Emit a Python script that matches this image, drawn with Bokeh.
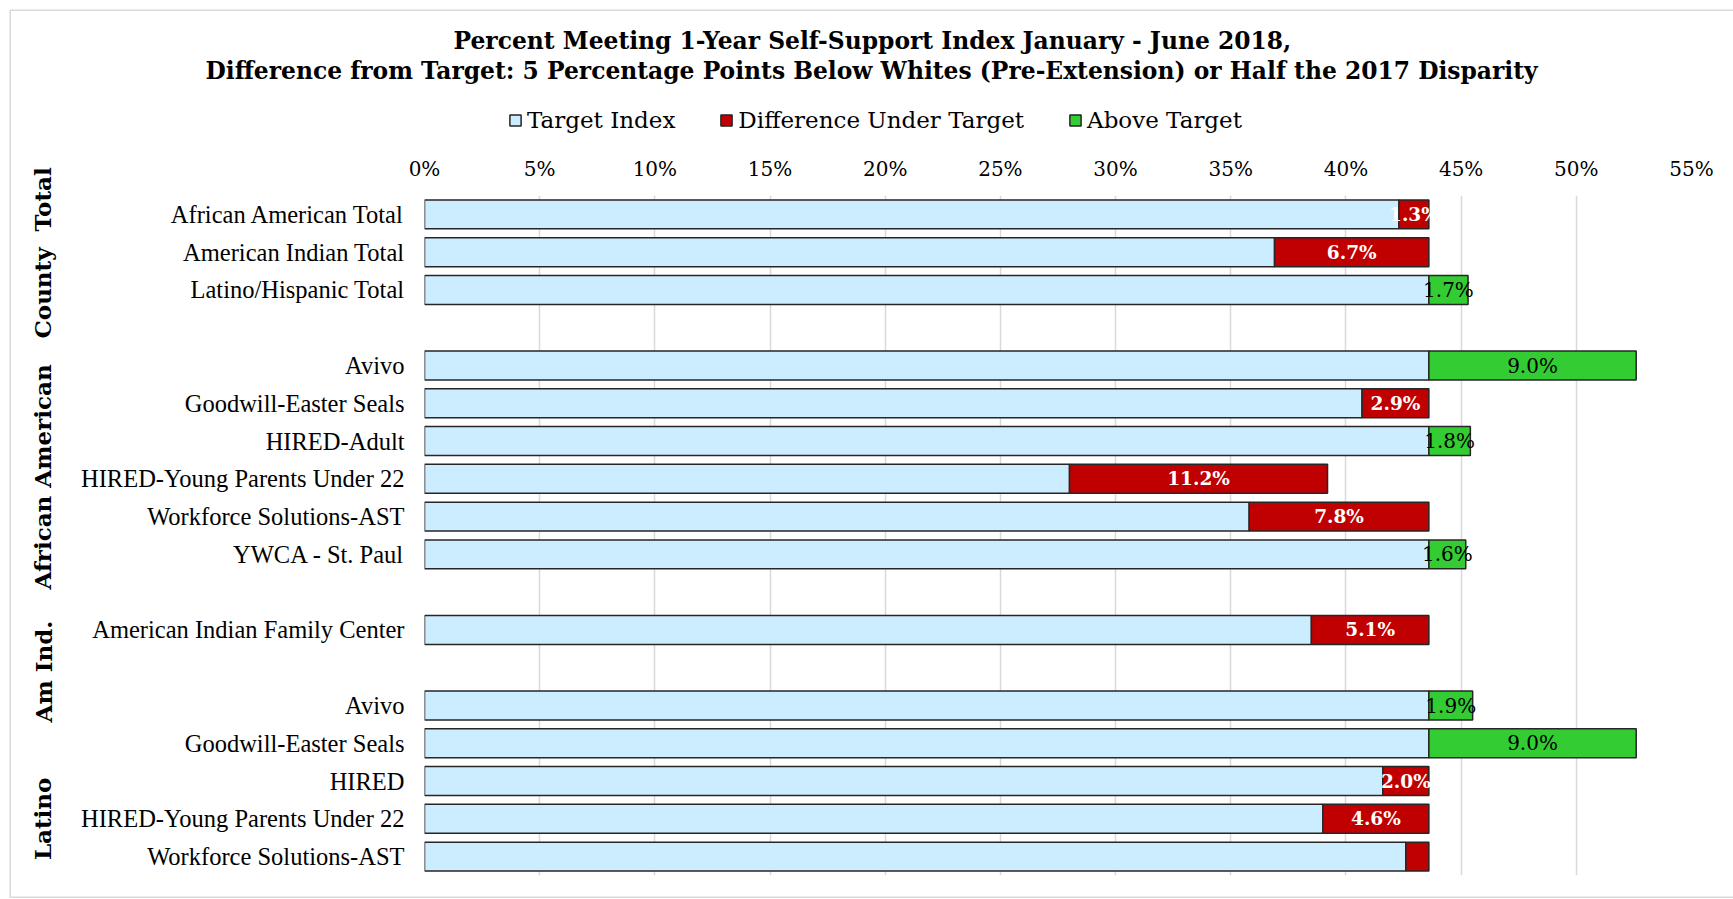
from bokeh.plotting import figure
from bokeh.layouts import column
from bokeh.models import (Range1d, FixedTicker, PrintfTickFormatter, LinearAxis,
                          Legend, LegendItem, Title, ColumnDataSource)
from bokeh.embed import file_html
from bokeh.resources import INLINE
from bokeh.core.properties import value

# ---------------- data ----------------
categories = [
    "African American Total", "American Indian Total", "Latino/Hispanic Total", "",
    "Avivo", "Goodwill-Easter Seals", "HIRED-Adult", "HIRED-Young Parents Under 22",
    "Workforce Solutions-AST", "YWCA - St. Paul", "",
    "American Indian Family Center", "",
    "Avivo", "Goodwill-Easter Seals", "HIRED", "HIRED-Young Parents Under 22",
    "Workforce Solutions-AST",
]
target_index = [42.3, 36.9, 43.6, None, 43.6, 40.7, 43.6, 28.0, 35.8, 43.6, None,
                38.5, None, 43.6, 43.6, 41.6, 39.0, 42.6]
under_target = [1.3, 6.7, 0.0, None, 0.0, 2.9, 0.0, 11.2, 7.8, 0.0, None,
                5.1, None, 0.0, 0.0, 2.0, 4.6, 1.0]
above_target = [0.0, 0.0, 1.7, None, 9.0, 0.0, 1.8, 0.0, 0.0, 1.6, None,
                0.0, None, 1.9, 9.0, 0.0, 0.0, 0.0]
under_labels = ["1.3%", "6.7%", "", "", "", "2.9%", "", "11.2%", "7.8%", "", "",
                "5.1%", "", "", "", "2.0%", "4.6%", ""]
above_labels = ["", "", "1.7%", "", "9.0%", "", "1.8%", "", "", "1.6%", "",
                "", "", "1.9%", "9.0%", "", "", ""]
group_names = ["County\u00a0 Total", "African American", "Am Ind.", "Latino"]
group_rows = [1.02, 6.95, 12.1, 16.0]
x_ticks = [0, 5, 10, 15, 20, 25, 30, 35, 40, 45, 50, 55]
series_names = ["Target Index", "Difference Under Target", "Above Target"]
series_colors = ["#CCECFF", "#C00000", "#33CC33"]

title_1 = "Percent Meeting 1-Year Self-Support Index January - June 2018,"
title_2 = "Difference from Target: 5 Percentage Points Below Whites (Pre-Extension) or Half the 2017 Disparity"

# ---------------- sources ----------------
rows = [i for i, c in enumerate(categories) if c]
blue = ColumnDataSource(dict(y=rows, left=[0] * len(rows),
                             right=[target_index[i] for i in rows]))
r_rows = [i for i in rows if under_target[i] > 0]
red = ColumnDataSource(dict(y=r_rows,
                            left=[target_index[i] for i in r_rows],
                            right=[target_index[i] + under_target[i] for i in r_rows],
                            mid=[target_index[i] + under_target[i] / 2 for i in r_rows],
                            txt=[under_labels[i] for i in r_rows]))
g_rows = [i for i in rows if above_target[i] > 0]
green = ColumnDataSource(dict(y=g_rows,
                              left=[target_index[i] for i in g_rows],
                              right=[target_index[i] + above_target[i] for i in g_rows],
                              mid=[target_index[i] + above_target[i] / 2 for i in g_rows],
                              txt=[above_labels[i] for i in g_rows]))
sources = [blue, red, green]

W, H = 1733, 899
TOP_H = 150
FL, FR = 424, 42
OUTLINE = "#262626"
BAR_H = 0.766

# ---------------- header: titles + legend ----------------
p0 = figure(width=W, height=TOP_H, output_backend="svg", toolbar_location=None,
            x_range=Range1d(0, 55), y_range=Range1d(len(categories) - 0.5, -0.5),
            x_axis_type=None, y_axis_type=None,
            min_border_left=FL, min_border_right=FR, min_border_top=85, min_border_bottom=0)
p0.outline_line_color = None
p0.background_fill_alpha = 0
p0.border_fill_alpha = 0
p0.xgrid.grid_line_color = None
p0.ygrid.grid_line_color = None

# hidden renderers that only provide the legend swatches
sw = [p0.hbar(y="y", left="left", right="right", height=BAR_H, source=s,
              fill_color=c, line_color=OUTLINE, line_width=1.5, visible=False)
      for s, c in zip(sources, series_colors)]
legend = Legend(items=[LegendItem(label=n, renderers=[r]) for n, r in zip(series_names, sw)],
                orientation="horizontal", location=(84, 17),
                glyph_width=14, glyph_height=14, label_standoff=5, spacing=44,
                padding=0, margin=0, border_line_color=None,
                background_fill_alpha=0, inactive_fill_alpha=0,
                label_text_font="DejaVu Serif", label_text_font_size="23px",
                label_text_color="black")
p0.add_layout(legend)

for txt, off in [(title_2, -219), (title_1, 29)]:
    p0.add_layout(Title(text=txt, align="left", offset=off, standoff=0,
                        vertical_align="middle",
                        text_font="DejaVu Serif", text_font_style="bold",
                        text_font_size="23.4px", text_color="black"), "above")

# ---------------- main chart ----------------
p = figure(width=W, height=H - TOP_H, output_backend="svg", toolbar_location=None,
           x_range=Range1d(0, 55), y_range=Range1d(len(categories) - 0.5, -0.5),
           x_axis_location="above", min_border_left=FL, min_border_right=FR,
           min_border_top=195 - TOP_H, min_border_bottom=24)
p.outline_line_color = None
p.background_fill_color = "white"
p.border_fill_alpha = 0

xa = p.xaxis[0]
xa.ticker = FixedTicker(ticks=x_ticks)
xa.formatter = PrintfTickFormatter(format="%d%%")
xa.axis_line_color = None
xa.major_tick_line_color = None
xa.minor_tick_line_color = None
xa.major_tick_out = 0
xa.major_label_standoff = 15
xa.major_label_text_font = "DejaVu Serif"
xa.major_label_text_font_size = "20px"
xa.major_label_text_color = "black"

p.xgrid.ticker = FixedTicker(ticks=x_ticks)
p.xgrid.grid_line_color = "#d9d9d9"
p.xgrid.grid_line_width = 1.5
p.ygrid.grid_line_color = None

ya = p.yaxis[0]
ya.ticker = FixedTicker(ticks=rows)
ya.major_label_overrides = {i: categories[i] for i in rows}
ya.axis_line_color = None
ya.major_tick_line_color = None
ya.minor_tick_line_color = None
ya.major_tick_out = 0
ya.major_label_standoff = 20
ya.major_label_text_font = "Liberation Serif"
ya.major_label_text_font_size = "24.5px"
ya.major_label_text_color = "black"

ga = LinearAxis(ticker=FixedTicker(ticks=group_rows),
                major_label_overrides={r: n for r, n in zip(group_rows, group_names)})
ga.axis_line_color = None
ga.major_tick_line_color = None
ga.minor_tick_line_color = None
ga.major_tick_out = 0
ga.major_label_standoff = 22
ga.major_label_orientation = "vertical"
ga.major_label_text_font = "DejaVu Serif"
ga.major_label_text_font_style = "bold"
ga.major_label_text_font_size = "23px"
ga.major_label_text_color = "black"
p.add_layout(ga, "left")

for s, c in zip(sources, series_colors):
    p.hbar(y="y", left="left", right="right", height=BAR_H, source=s,
           fill_color=c, line_color=OUTLINE, line_width=1.5)

p.text(x="mid", y="y", text="txt", source=red, text_align="center",
       text_baseline="middle", text_color="white", text_font=value("DejaVu Serif"),
       text_font_style="bold", text_font_size="18.5px")
p.text(x="mid", y="y", text="txt", source=green, text_align="center",
       text_baseline="middle", text_color="black", text_font=value("DejaVu Serif"),
       text_font_size="20px")

layout = column(p0, p, spacing=0)
layout.styles = {
    "background-color": "white",
    "box-shadow": ("inset 9.5px 9.5px 0 0 #ffffff, inset 0 -1px 0 0 #ffffff, "
                   "inset 11px 11px 0 0 #d9d9d9, inset 0 -2.5px 0 0 #d9d9d9"),
}

open("out.html", "w").write(file_html(layout, INLINE))
